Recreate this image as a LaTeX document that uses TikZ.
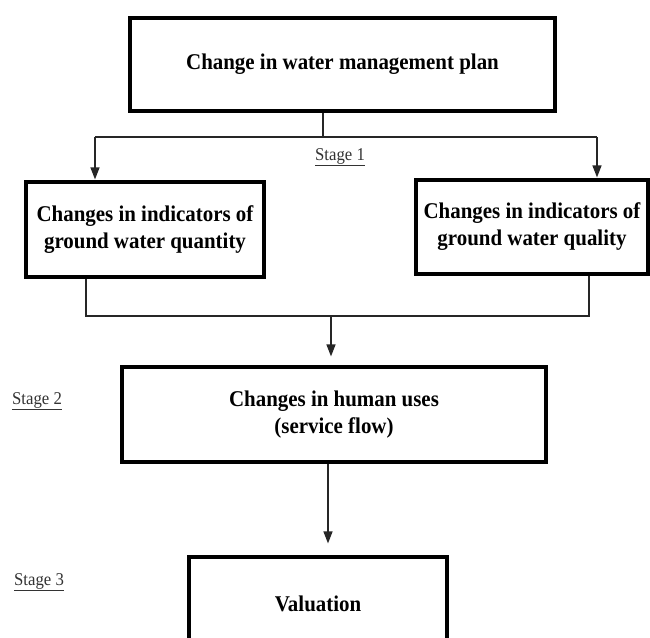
\documentclass[tikz,border=0pt]{standalone}
\usepackage{fontspec}
\setmainfont{Liberation Serif}
\newfontfamily\narrowserif{Liberation Serif}[FakeStretch=0.93]
\usetikzlibrary{arrows.meta}
\begin{document}
\begin{tikzpicture}[x=1pt,y=-1pt,
 box/.style={draw=black, line width=3.2pt, inner sep=0pt, align=center, font=\narrowserif\fontsize{22.5}{27}\selectfont\bfseries},
 conn/.style={line width=1.4pt, draw=black!85},
 arr/.style={conn, -{Triangle[length=12pt,width=9pt]}},
 stagelbl/.style={font=\narrowserif\fontsize{18}{19}\selectfont, text=black!80, inner sep=0pt}]
\useasboundingbox (0,0) rectangle (650,637);
\fill[white] (0,0) rectangle (650,637);
\clip (0,0) rectangle (650,637);
\node[box, minimum width=425pt, minimum height=93pt] (top) at (342.5,64.5) {Change in water management plan};
\node[box, minimum width=238pt, minimum height=95pt] (left) at (145,229.5) {Changes in indicators of\\ground water quantity};
\node[box, minimum width=232pt, minimum height=94pt] (right) at (532,227) {Changes in indicators of\\ground water quality};
\node[box, minimum width=424pt, minimum height=95pt] (mid) at (334,414.5) {Changes in human uses\\(service flow)};
\node[box, minimum width=258pt, minimum height=94pt] (val) at (318,604) {Valuation};
\node[stagelbl] (s1) at (340,157) {\underline{Stage 1}};
\node[stagelbl] (s2) at (37,401) {\underline{Stage 2}};
\node[stagelbl] (s3) at (39,582) {\underline{Stage 3}};
\coordinate (j1) at (323,137);
\coordinate (jl) at (95,137);
\coordinate (jr) at (597,137);
\draw[conn] (top.south -| j1) -- (j1);
\draw[conn] (jl) -- (jr);
\draw[arr, shorten >=1pt] (jl) -- (left.north -| jl);
\draw[arr, shorten >=1pt] (jr) -- (right.north -| jr);
\coordinate (kl) at (86,316);
\coordinate (kr) at (589,316);
\coordinate (kc) at (331,316);
\draw[conn] (left.south -| kl) -- (kl) -- (kr) -- (right.south -| kr);
\draw[arr, shorten >=9pt] (kc) -- (mid.north -| kc);
\coordinate (m1) at (328,462);
\draw[arr, shorten >=12pt] (mid.south -| m1) -- (val.north -| m1);
\end{tikzpicture}
\end{document}
